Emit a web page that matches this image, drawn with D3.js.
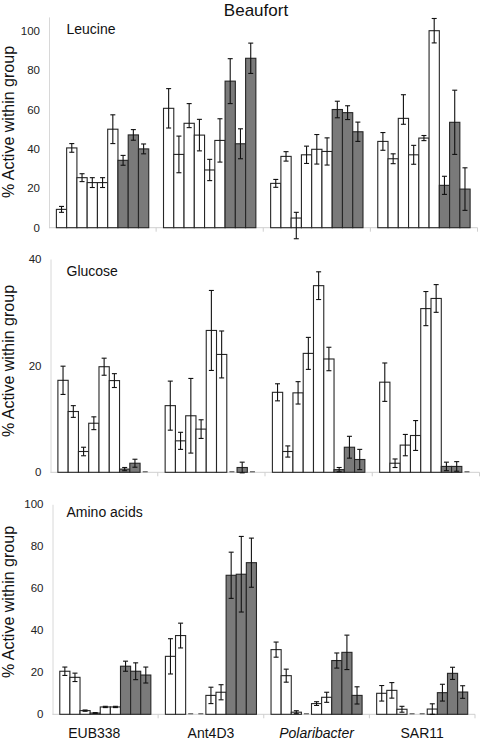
<!DOCTYPE html>
<html><head><meta charset="utf-8">
<script src="https://cdn.jsdelivr.net/npm/d3@7"></script>
<style>
body{margin:0;background:#fff}
text{font-family:"Liberation Sans",Arial,sans-serif}
</style>
</head><body>
<svg id="chart" width="480" height="740"></svg>
<script>
// ---------- DATA ----------
const chartTitle = "Beaufort";
const groups = ["EUB338", "Ant4D3", "Polaribacter", "SAR11"];
// 9 bars per group: first 6 open, last 3 filled
const barKinds = ["open","open","open","open","open","open","filled","filled","filled"];

const leucineTicks = [0, 20, 40, 60, 80, 100];
const leucineValues = [
  [9.3, 40.5, 25.4, 22.9, 22.9, 50, 34.2, 47.1, 40],
  [60.6, 37.2, 53, 47, 29.3, 44.3, 74.4, 42.6, 86],
  [22.5, 36.2, 4.9, 37, 39.8, 38.7, 60, 58.4, 48.7],
  [43.8, 35, 55.5, 37, 45.5, 100, 21.5, 53.5, 19.6]
];
const leucineErrUp = [
  [1.5, 2.2, 2, 2.5, 2.5, 7.3, 2.5, 2.7, 2.5],
  [10, 9.3, 10, 8, 5.4, 11, 11.4, 7.6, 7.7],
  [2, 2.4, 2.9, 4.4, 7.5, 6.9, 4.2, 3.5, 4.9],
  [4.5, 2.5, 12, 4.8, 1.3, 6.2, 4.6, 16.3, 10.8]
];
const leucineErrDown = [
  [1.5, 2.2, 2, 2.5, 2.5, 7.3, 2.5, 2.7, 2.5],
  [10, 9.3, 2.2, 8, 5.4, 11, 11.4, 7.6, 7.7],
  [2, 2.4, 10.5, 4.4, 7.5, 6.9, 4.2, 3.5, 4.9],
  [4.5, 2.5, 3, 4.8, 1.3, 6.2, 4.6, 16.3, 10.8]
];

const glucoseTicks = [0, 20, 40];
const glucoseValues = [
  [17.25, 11.4, 3.9, 9.2, 19.8, 17.2, 0.6, 1.7, 0],
  [12.5, 5.9, 10.6, 8.1, 26.6, 22.1, 0, 0.9, 0],
  [15, 3.9, 14.9, 22.3, 35, 21.25, 0.5, 4.7, 2.4],
  [16.9, 1.7, 5.1, 6.9, 30.7, 32.6, 1.1, 1.1, 0]
];
const glucoseErrUp = [
  [2.65, 1.1, 0.8, 1.2, 1.6, 1.3, 0.3, 0.75, 0],
  [4.6, 1.6, 7, 1.75, 7.5, 4.4, 0, 1, 0],
  [1.6, 1.05, 2.1, 3, 2.6, 2.2, 0.4, 2.05, 1.9],
  [3.6, 0.8, 2, 2.8, 3.2, 2.6, 0.8, 0.9, 0]
];
const glucoseErrDown = glucoseErrUp;

const aminoTicks = [0, 20, 40, 60, 80, 100];
const aminoValues = [
  [20.5, 17.6, 1.75, 0.6, 3.5, 3.5, 22.9, 20.5, 18.7],
  [27.6, 37.5, 0, 0, 9, 10.5, 66.2, 66.7, 72.2],
  [30.8, 18.4, 1, 0, 5.1, 8.1, 25.6, 29.5, 9],
  [10, 11.4, 2.4, 0, 0, 2.5, 10.3, 19.5, 10.6]
];
const aminoErrUp = [
  [2, 2, 0.3, 0.2, 0.3, 0.3, 2.4, 4, 3.8],
  [8.4, 5.9, 0, 0, 3.9, 3.6, 11, 18, 11.7],
  [3.6, 3.1, 0.7, 0, 0.9, 2.4, 3.6, 8.2, 4.1],
  [3.7, 3.7, 1.4, 0, 0, 2.5, 4, 2.9, 3]
];
const aminoErrDown = aminoErrUp;

const yTitle = "% Active within group";

// ---------- LAYOUT ----------
const panels = [
  {label: "Leucine", values: leucineValues, up: leucineErrUp, down: leucineErrDown, ticks: leucineTicks,
   axisTop: 107, xl: 49, xr: 477.5, yZero: 227.7, yTickTop: 30.7, labelY: 34, titleY: 122},
  {label: "Glucose", values: glucoseValues, up: glucoseErrUp, down: glucoseErrDown, ticks: glucoseTicks,
   axisTop: 40, xl: 50.5, xr: 479.5, yZero: 472.3, yTickTop: 259, labelY: 275.5, titleY: 361},
  {label: "Amino acids", values: aminoValues, up: aminoErrUp, down: aminoErrDown, ticks: aminoTicks,
   axisTop: 100, xl: 52.5, xr: 475, yZero: 714.3, yTickTop: 504.3, labelY: 517, titleY: 602}
];

const svg = d3.select("#chart");

svg.append("text")
  .attr("x", 256).attr("y", 16)
  .attr("text-anchor", "middle")
  .attr("font-size", 17).attr("fill", "#111")
  .text(chartTitle);

panels.forEach((p, pi) => {
  const tickMax = d3.max(p.ticks);
  const k = (p.yZero - p.yTickTop) / tickMax;
  const y = d3.scaleLinear().domain([0, p.axisTop]).range([p.yZero, p.yZero - p.axisTop * k]);
  const x0 = d3.scaleBand().domain(groups).range([p.xl, p.xr]).paddingInner(0).paddingOuter(0);
  const x1 = d3.scaleBand().domain(d3.range(barKinds.length)).range([0, x0.bandwidth()])
    .paddingInner(0).paddingOuter(0.72);

  const g = svg.append("g");

  // y axis
  const yAxis = d3.axisLeft(y).tickValues(p.ticks).tickSize(0).tickPadding(9);
  const ya = g.append("g").attr("transform", `translate(${p.xl},0)`).call(yAxis);
  ya.select(".domain").attr("stroke", "#d8d8d8").attr("stroke-width", 1);
  ya.selectAll("text").attr("font-size", 11.5).attr("fill", "#222")
    .attr("font-family", '"Liberation Sans",Arial,sans-serif');

  // x baseline + group separator ticks
  g.append("line")
    .attr("x1", p.xl).attr("x2", p.xr)
    .attr("y1", y(0)).attr("y2", y(0))
    .attr("stroke", "#cfcfcf").attr("stroke-width", 1);
  const bounds = groups.map(d => x0(d)).concat([x0(groups[groups.length - 1]) + x0.bandwidth()]).slice(1);
  g.selectAll(".sep").data(bounds).join("line")
    .attr("x1", d => d).attr("x2", d => d)
    .attr("y1", y(0)).attr("y2", y(0) + 4)
    .attr("stroke", "#cfcfcf");

  // bars
  const rows = [];
  groups.forEach((grp, gi) => {
    p.values[gi].forEach((v, bi) => {
      rows.push({grp, bi, v, up: p.up[gi][bi], down: p.down[gi][bi], kind: barKinds[bi]});
    });
  });

  const bw = x1.bandwidth();
  g.selectAll(".bar").data(rows.filter(d => d.v > 0)).join("rect")
    .attr("x", d => x0(d.grp) + x1(d.bi))
    .attr("y", d => y(d.v))
    .attr("width", bw)
    .attr("height", d => y(0) - y(d.v))
    .attr("fill", d => d.kind === "filled" ? "#7a7a7a" : "#ffffff")
    .attr("stroke", "#262626").attr("stroke-width", 1.1);

  // zero-value dashes
  g.selectAll(".zero").data(rows.filter(d => d.v === 0)).join("line")
    .attr("x1", d => x0(d.grp) + x1(d.bi) + bw / 2 - 2.5)
    .attr("x2", d => x0(d.grp) + x1(d.bi) + bw / 2 + 2.5)
    .attr("y1", y(0) - 0.5).attr("y2", y(0) - 0.5)
    .attr("stroke", "#444").attr("stroke-width", 1);

  // error bars
  const eb = rows.filter(d => d.up > 0 || d.down > 0);
  const cx = d => x0(d.grp) + x1(d.bi) + bw / 2;
  g.selectAll(".ev").data(eb).join("line")
    .attr("x1", cx).attr("x2", cx)
    .attr("y1", d => y(d.v + d.up)).attr("y2", d => y(d.v - d.down))
    .attr("stroke", "#111").attr("stroke-width", 1.1);
  g.selectAll(".ct").data(eb).join("line")
    .attr("x1", d => cx(d) - 2.5).attr("x2", d => cx(d) + 2.5)
    .attr("y1", d => y(d.v + d.up)).attr("y2", d => y(d.v + d.up))
    .attr("stroke", "#111").attr("stroke-width", 1.1);
  g.selectAll(".cb").data(eb).join("line")
    .attr("x1", d => cx(d) - 2.5).attr("x2", d => cx(d) + 2.5)
    .attr("y1", d => y(d.v - d.down)).attr("y2", d => y(d.v - d.down))
    .attr("stroke", "#111").attr("stroke-width", 1.1);

  // panel label
  g.append("text").attr("x", 66.5).attr("y", p.labelY)
    .attr("font-size", 14).attr("fill", "#111").text(p.label);

  // y title
  g.append("text")
    .attr("transform", `translate(13.5,${p.titleY}) rotate(-90)`)
    .attr("text-anchor", "middle")
    .attr("font-size", 16).attr("fill", "#111")
    .text(yTitle);

  // category labels on last panel
  if (pi === panels.length - 1) {
    g.selectAll(".cat").data(groups).join("text")
      .attr("x", d => x0(d) + x0.bandwidth() / 2)
      .attr("dx", (d, i) => i === 0 ? -11 : 0)
      .attr("y", 738)
      .attr("text-anchor", "middle")
      .attr("font-size", 14).attr("fill", "#111")
      .attr("font-style", d => d === "Polaribacter" ? "italic" : "normal")
      .text(d => d);
  }
});
</script>
</body></html>
